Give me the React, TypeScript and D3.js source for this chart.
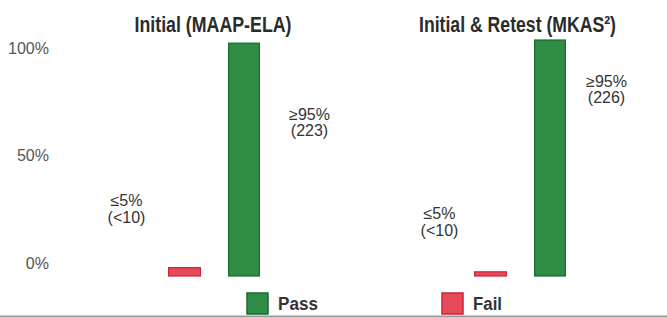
import React from "react";
import * as d3 from "d3";

const panels = ["Initial (MAAP-ELA)", "Initial & Retest (MKAS²)"];
const outcomes = ["Fail", "Pass"];
// bar heights expressed in student counts (Fail counts are "<10", estimated)
const passCounts = [223, 226];
const failCounts = [8, 4];
const passLabels = ["≥95%", "≥95%"];
const failLabels = ["≤5%", "≤5%"];
const passCountLabels = ["(223)", "(226)"];
const failCountLabels = ["(<10)", "(<10)"];
const yTicks = [0, 50, 100];
const legendItems = ["Pass", "Fail"];

const W = 667;
const H = 318;
const GREEN = "#2f8c45";
const GREEN_DARK = "#1b6a2e";
const RED = "#e44b58";
const RED_DARK = "#d21f36";
const NARROW = "'Liberation Sans', Arial, sans-serif";
const SANS = "Arial, 'Liberation Sans', sans-serif";

// label placement (pixel offsets / widths, kept separate from data)
const titleDx = [58.5, 57];
const titleWidth = [157, 197];
const legendWidth = [40, 29];
const passLabelPos = [{ dx: 65, y: 120 }, { dx: 56, y: 87 }];
const failLabelPos = [{ dx: -58, y: 206 }, { dx: -51, y: 219 }];

export default function App() {
  const x0 = d3.scaleBand<string>().domain(panels).range([154.5, 154.5 + 2 * 306]);
  const x1 = d3
    .scaleBand<string>()
    .domain(outcomes)
    .range([0, 120])
    .paddingInner(0.47)
    .paddingOuter(0.235);
  const y = d3.scaleLinear().domain([0, 226]).range([276, 40]);
  const yPct = d3.scaleLinear().domain([0, 100]).range([263, 48]);

  return (
    <svg
      width={W}
      height={H}
      style={{ position: "absolute", left: 0, top: 0, background: "#fff" }}
    >
      <rect x={0} y={0} width={W} height={H} fill="#fff" />
      {/* y tick labels */}
      {yTicks.map((t) => (
        <text
          key={t}
          x={49}
          y={yPct(t)}
          dy="0.36em"
          textAnchor="end"
          fontFamily={SANS}
          fontSize={16}
          fill="#555"
        >
          {t}%
        </text>
      ))}
      {panels.map((p, i) => {
        const px = x0(p)!;
        const bw = x1.bandwidth();
        const fx = px + x1("Fail")!;
        const gx = px + x1("Pass")!;
        const tx = px + titleDx[i];
        return (
          <g key={p}>
            <text
              x={tx - titleWidth[i] / 2}
              y={32}
              textLength={titleWidth[i]}
              lengthAdjust="spacingAndGlyphs"
              fontFamily={NARROW}
              fontWeight="bold"
              fontSize={22}
              fill="#2b2b2b"
            >
              {p}
            </text>
            <rect
              x={fx}
              y={y(failCounts[i])}
              width={bw}
              height={y(0) - y(failCounts[i])}
              fill={RED}
              stroke={RED_DARK}
              strokeWidth={1.2}
            />
            <rect
              x={gx}
              y={y(passCounts[i])}
              width={bw - 1}
              height={y(0) - y(passCounts[i])}
              fill={GREEN}
              stroke={GREEN_DARK}
              strokeWidth={1.2}
            />
            <text
              textAnchor="middle"
              fontFamily={SANS}
              fontSize={16}
              fill="#333"
              y={passLabelPos[i].y}
            >
              <tspan x={gx + bw / 2 + passLabelPos[i].dx}>{passLabels[i]}</tspan>
              <tspan x={gx + bw / 2 + passLabelPos[i].dx} dy={16}>
                {passCountLabels[i]}
              </tspan>
            </text>
            <text
              textAnchor="middle"
              fontFamily={SANS}
              fontSize={16}
              fill="#333"
              y={failLabelPos[i].y}
            >
              <tspan x={fx + bw / 2 + failLabelPos[i].dx}>{failLabels[i]}</tspan>
              <tspan x={fx + bw / 2 + failLabelPos[i].dx} dy={17}>
                {failCountLabels[i]}
              </tspan>
            </text>
          </g>
        );
      })}
      {/* legend */}
      {legendItems.map((item, i) => {
        const lx = 247 + i * 195;
        return (
          <g key={item}>
            <rect
              x={lx}
              y={293}
              width={21}
              height={21}
              fill={item === "Pass" ? GREEN : RED}
              stroke={item === "Pass" ? GREEN_DARK : RED_DARK}
              strokeWidth={1.5}
            />
            <text
              x={lx + 31}
              y={310}
              textLength={legendWidth[i]}
              lengthAdjust="spacingAndGlyphs"
              fontFamily={NARROW}
              fontWeight="bold"
              fontSize={18}
              fill="#333"
            >
              {item}
            </text>
          </g>
        );
      })}
      <line x1={0} x2={W} y1={316.5} y2={316.5} stroke="#9a9a9a" strokeWidth={2} />
    </svg>
  );
}
